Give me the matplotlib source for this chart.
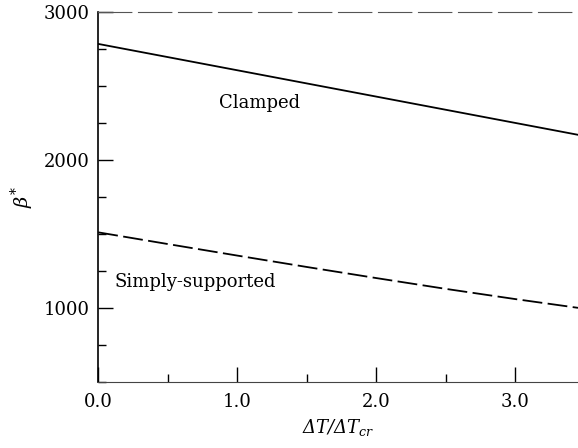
import matplotlib.pyplot as plt
import numpy as np
from matplotlib.ticker import MultipleLocator

plt.rcParams['font.family'] = 'DejaVu Serif'
plt.rcParams['mathtext.fontset'] = 'dejavuserif'

# values
dt_ratio = [0.0, 0.5, 1.0, 1.5, 2.0, 2.5, 3.0, 3.45]
clamped = [2785, 2696, 2607, 2518, 2429, 2340, 2251, 2171]
simply = [1512, 1433, 1355, 1278, 1203, 1130, 1061, 1002]

fig = plt.figure(figsize=(5.78, 4.48), dpi=100)
ax = fig.add_axes([0.170, 0.147, 0.83, 0.826])

ax.plot(dt_ratio, clamped, color='black', lw=1.3)
ax.plot(dt_ratio, simply, color='black', lw=1.3, dashes=(11, 3))

ax.text(0.87, 2385, 'Clamped', fontsize=13, va='center')
ax.text(0.12, 1177, 'Simply-supported', fontsize=13, va='center')

ax.set_xlim(0, 3.45)
ax.set_ylim(500, 3000)
ax.xaxis.set_major_locator(MultipleLocator(1.0))
ax.xaxis.set_minor_locator(MultipleLocator(0.5))
ax.yaxis.set_major_locator(MultipleLocator(1000))
ax.yaxis.set_minor_locator(MultipleLocator(250))
ax.xaxis.set_major_formatter(plt.FormatStrFormatter('%.1f'))

ax.tick_params(which='major', direction='in', length=11, width=1, labelsize=13, pad=8)
ax.tick_params(which='minor', direction='in', length=6, width=1)
ax.tick_params(axis='y', pad=6)

ax.spines['right'].set_visible(False)
ax.spines['top'].set_linestyle((0, (30, 6)))
ax.spines['top'].set_color('#555555')
ax.spines['top'].set_linewidth(0.8)
ax.spines['left'].set_linewidth(1.2)
ax.spines['bottom'].set_color('#444444')

ax.set_xlabel('ΔT/ΔT$_{cr}$', fontsize=13, style='italic', labelpad=4)
ax.set_ylabel(r'$\beta^{*}$', fontsize=14, labelpad=6)

fig.savefig('out.png', dpi=100)
